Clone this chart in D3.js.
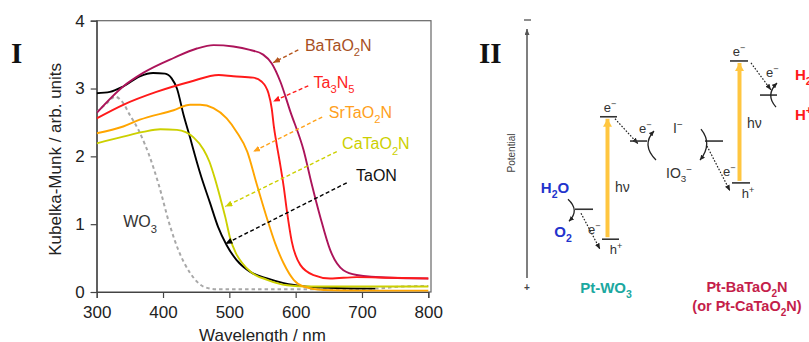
<!DOCTYPE html>
<html><head><meta charset="utf-8">
<script src="https://cdn.jsdelivr.net/npm/d3@7"></script>
<style>
html,body{margin:0;padding:0;background:#fff;}
svg{display:block;font-family:"Liberation Sans",Arial,sans-serif;}
</style></head>
<body>
<svg id="chart" width="809" height="342"></svg>
<script>
// ---------------- DATA (panel I) ----------------
const xTicks = [300, 400, 500, 600, 700, 800];
const yTicks = [0, 1, 2, 3, 4];
const xTitle = "Wavelength  / nm";
const yTitle = "Kubelka-Munk / arb. units";

const seriesNames = ["BaTaO_2N", "Ta_3N_5", "SrTaO_2N", "CaTaO_2N", "TaON", "WO_3"];

const wlBa = [300,340,370,416,451,476,506,531,551,564,577,592,612,624,637,652,672,692,743,800];
const kmBa = [2.64,3.03,3.23,3.45,3.59,3.64,3.62,3.57,3.50,3.37,3.10,2.66,2.09,1.60,1.11,0.62,0.32,0.25,0.21,0.20];

const wlTa = [300,340,390,441,484,506,536,549,559,564,567,571,576,582,587,594,607,627,652,692,743,800];
const kmTa = [2.56,2.76,2.95,3.10,3.20,3.18,3.16,3.10,2.93,2.70,2.45,2.20,1.92,1.55,1.18,0.75,0.40,0.25,0.20,0.22,0.21,0.20];

const wlSr = [300,340,365,416,441,456,476,496,511,527,541,556,569,582,597,612,642,700,800];
const kmSr = [2.34,2.44,2.54,2.68,2.76,2.76,2.71,2.56,2.36,2.07,1.60,1.11,0.72,0.42,0.18,0.08,0.03,0.02,0.02];

const wlCa = [300,340,370,396,421,446,461,470,478,486,494,501,510,520,533,557,587,620,700,800];
const kmCa = [2.19,2.29,2.36,2.40,2.39,2.28,2.10,1.92,1.68,1.40,1.10,0.80,0.57,0.42,0.29,0.18,0.10,0.08,0.08,0.08];

const wlTaON = [300,320,340,365,385,403,413,421,431,441,448,456,471,483,496,511,531,557,582,617,660,720];
const kmTaON = [2.93,2.95,3.03,3.18,3.23,3.22,3.15,3.00,2.61,2.27,2.02,1.75,1.31,0.96,0.69,0.47,0.30,0.20,0.13,0.08,0.06,0.05];

const wlWO3 = [300,315,328,338,350,363,373,379,393,411,423,441,461,480,550,650,720,760,800];
const kmWO3 = [2.65,2.78,2.88,2.81,2.61,2.39,2.17,2.02,1.60,0.96,0.62,0.28,0.08,0.04,0.04,0.04,0.05,0.08,0.09];

// annotation labels (data units): label anchor, arrow tail, arrow tip
const annLabels = ["BaTaO_2N", "Ta_3N_5", "SrTaO_2N", "CaTaO_2N", "TaON"];
const annText  = [[614,3.64],[627,3.10],[650,2.65],[670,2.19],[691,1.73]];
const annTail  = [[604,3.57],[619,3.04],[640,2.58],[662,2.07],[677,1.61]];
const annTip   = [[566,3.38],[566,2.81],[536,2.07],[494,1.26],[494,0.71]];
const wo3Label = [340, 1.04];

// ---------------- DATA (panel II) ----------------
// potentials (arbitrary units, more positive = lower)
const levelNames = ["WO3 CB","WO3 VB","BaTaO2N CB","BaTaO2N VB","H+/H2","IO3-/I-","O2/H2O"];
const levelPot   = [0.06, 2.43, -1.02, 1.34, -0.36, 0.53, 1.85];

// ---------------- STYLE ----------------
const colBa = "#AC145A", colTa = "#FF1A1A", colSr = "#FFA500", colCa = "#CCD000", colTaON = "#000000", colWO3 = "#A8A8A8";
const lineCols = [colBa, colTa, colSr, colCa, colTaON, colWO3];
const annCols = ["#B5561E", "#FF1A1A", "#FFA21A", "#CCD000", "#000000"];
const annTextCols = ["#A8501E", "#FF2222", "#FFA020", "#CCD000", "#111111"];

const svg = d3.select("#chart");

function rich(sel, str, fs) {
  const toks = str.match(/_\{[^}]*\}|\^\{[^}]*\}|_[^{]|\^[^{]|[^_^]+/g);
  let cur = 0;
  toks.forEach(t => {
    let shift = 0, txt = t, small = false;
    if (t[0] === "_") { shift = fs * 0.32; small = true; txt = t[1] === "{" ? t.slice(2, -1) : t.slice(1); }
    else if (t[0] === "^") { shift = -fs * 0.38; small = true; txt = t[1] === "{" ? t.slice(2, -1) : t.slice(1); }
    const ts = sel.append("tspan").text(txt);
    if (shift - cur !== 0) ts.attr("dy", shift - cur);
    if (small) ts.attr("font-size", fs * 0.7);
    cur = shift;
  });
  return sel;
}

// ---------------- PANEL I ----------------
const L = 96.7, R = 428.3, T = 20.7, B = 292;
const x = d3.scaleLinear().domain([300, 800]).range([L, R]);
const y = d3.scaleLinear().domain([0, 4]).range([B, T]);

const defs = svg.append("defs");
defs.append("clipPath").attr("id", "plotclip").append("rect")
  .attr("x", L).attr("y", T).attr("width", 431 - L).attr("height", B - T);

function mkMarker(id, color, w, l) {
  defs.append("marker").attr("id", id).attr("markerUnits", "userSpaceOnUse")
    .attr("viewBox", `0 ${-w/2} ${l} ${w}`).attr("refX", l).attr("refY", 0)
    .attr("markerWidth", l).attr("markerHeight", w).attr("orient", "auto")
    .append("path").attr("d", `M0,${-w/2}L${l},0L0,${w/2}Z`).attr("fill", color);
}
annCols.forEach((c, i) => mkMarker("ann" + i, c, 6, 7));
mkMarker("dotArrow", "#222", 5, 6);
mkMarker("yelArrow", "#FFC640", 9, 8);
mkMarker("axArrow", "#555", 5, 6);
mkMarker("curArrow", "#222", 5, 5);

// frame
svg.append("rect").attr("x", L).attr("y", T).attr("width", 431 - L).attr("height", B - T)
  .attr("fill", "none").attr("stroke", "#666").attr("stroke-width", 1.2);

const gx = svg.append("g").attr("transform", `translate(0,${B})`)
  .call(d3.axisBottom(x).tickValues(xTicks).tickSize(6).tickPadding(8).tickFormat(d3.format("d")));
const gy = svg.append("g").attr("transform", `translate(${L},0)`)
  .call(d3.axisLeft(y).tickValues(yTicks).tickSize(6).tickPadding(6).tickFormat(d3.format("d")));
[gx, gy].forEach(g => {
  g.selectAll("text").attr("font-size", 17).attr("fill", "#222").attr("font-family", "Liberation Sans, Arial, sans-serif");
  g.selectAll("line").attr("stroke", "#444").attr("stroke-width", 1.2);
  g.select(".domain").attr("stroke", "#444").attr("stroke-width", 1.2);
});

svg.append("text").attr("x", (L + R) / 2).attr("y", 341).attr("text-anchor", "middle")
  .attr("font-size", 17).attr("fill", "#222").text(xTitle);
svg.append("text").attr("transform", `translate(61,${(T + B) / 2 + 3}) rotate(-90)`)
  .attr("text-anchor", "middle").attr("font-size", 17).attr("fill", "#222").text(yTitle);

// curves
const allWl = [wlBa, wlTa, wlSr, wlCa, wlTaON, wlWO3];
const allKm = [kmBa, kmTa, kmSr, kmCa, kmTaON, kmWO3];
const line = d3.line().x(d => x(d[0])).y(d => y(d[1])).curve(d3.curveMonotoneX);
const gCurves = svg.append("g").attr("clip-path", "url(#plotclip)");
[5, 4, 3, 2, 0, 1].forEach(i => {
  const pts = allWl[i].map((w, j) => [w, allKm[i][j]]);
  gCurves.append("path").datum(pts).attr("d", line)
    .attr("fill", "none").attr("stroke", lineCols[i])
    .attr("stroke-width", i === 5 ? 2 : 1.9)
    .attr("stroke-dasharray", i === 5 ? "3.5,3" : null)
    .attr("stroke-linejoin", "round");
});

// annotations
annLabels.forEach((lab, i) => {
  svg.append("line")
    .attr("x1", x(annTail[i][0])).attr("y1", y(annTail[i][1]))
    .attr("x2", x(annTip[i][0])).attr("y2", y(annTip[i][1]))
    .attr("stroke", annCols[i]).attr("stroke-width", 1.4).attr("stroke-dasharray", "4,2.5")
    .attr("marker-end", `url(#ann${i})`);
  const t = svg.append("text").attr("x", x(annText[i][0])).attr("y", y(annText[i][1]) + 6)
    .attr("font-size", 16).attr("fill", annTextCols[i]);
  rich(t, lab, 16);
});
rich(svg.append("text").attr("x", x(wo3Label[0])).attr("y", y(wo3Label[1]) + 6)
  .attr("font-size", 16).attr("fill", "#333"), "WO_3", 16);

// panel numerals
svg.append("text").attr("x", 11).attr("y", 63).attr("font-family", "Liberation Serif, Times New Roman, serif")
  .attr("font-weight", "bold").attr("font-size", 29).attr("fill", "#111").text("I");
svg.append("text").attr("x", 479).attr("y", 63).attr("font-family", "Liberation Serif, Times New Roman, serif")
  .attr("font-weight", "bold").attr("font-size", 29).attr("fill", "#111").text("II");

// ---------------- PANEL II ----------------
const p = d3.scaleLinear().domain([-1.6, 3.2]).range([31, 279]);
const lv = name => p(levelPot[levelNames.indexOf(name)]);
const g2 = svg.append("g");
const dark = "#333";

g2.append("line").attr("x1", 527).attr("x2", 527).attr("y1", 278).attr("y2", 29)
  .attr("stroke", "#555").attr("stroke-width", 1.5).attr("marker-end", "url(#axArrow)");
g2.append("line").attr("x1", 524).attr("x2", 531).attr("y1", 20).attr("y2", 20).attr("stroke", "#444").attr("stroke-width", 1.2);
g2.append("text").attr("x", 527).attr("y", 291).attr("text-anchor", "middle").attr("font-size", 10).attr("font-weight", "bold").attr("fill", "#444").text("+");
g2.append("text").attr("transform", "translate(515,153) rotate(-90)").attr("text-anchor", "middle")
  .attr("font-size", 10).attr("fill", "#444").text("Potential");

function level(x1, x2, yy) {
  g2.append("line").attr("x1", x1).attr("x2", x2).attr("y1", yy).attr("y2", yy).attr("stroke", dark).attr("stroke-width", 1.6);
}
function txt(xx, yy, s, fs, col, weight, anchor) {
  const t = g2.append("text").attr("x", xx).attr("y", yy).attr("font-size", fs).attr("fill", col)
    .attr("font-weight", weight || "normal").attr("text-anchor", anchor || "start");
  rich(t, s, fs);
}
function dotted(x1, y1, x2, y2) {
  g2.append("line").attr("x1", x1).attr("y1", y1).attr("x2", x2).attr("y2", y2)
    .attr("stroke", "#222").attr("stroke-width", 1.2).attr("stroke-dasharray", "1.6,1.6").attr("marker-end", "url(#dotArrow)");
}
function curved(x1, y1, cx, cy, x2, y2) {
  g2.append("path").attr("d", `M${x1},${y1}Q${cx},${cy} ${x2},${y2}`).attr("fill", "none")
    .attr("stroke", "#222").attr("stroke-width", 1.3).attr("marker-end", "url(#curArrow)");
}
function photon(xx, y1, y2) {
  g2.append("line").attr("x1", xx).attr("x2", xx).attr("y1", y1).attr("y2", y2)
    .attr("stroke", "#FFC640").attr("stroke-width", 4).attr("marker-end", "url(#yelArrow)");
}

// Pt-WO3
const wCB = lv("WO3 CB"), wVB = lv("WO3 VB"), red = lv("IO3-/I-"), ox = lv("O2/H2O");
level(600, 617, wCB);
level(602, 619, wVB);
photon(607.5, wVB - 2, wCB + 2);
txt(610, wCB - 5, "e^−", 13, dark, "normal", "middle");
txt(616, wVB + 15, "h^+", 13, dark, "normal", "middle");
txt(615, 192, "hν", 14, dark);
dotted(615, wCB + 2, 638, wCB + 27);
txt(639, wCB + 16, "e^−", 13, dark);
level(630, 647, red);
curved(656, red + 19, 641, red + 4, 654, red - 10);
level(575, 593, ox);
curved(568, ox - 10, 580, ox + 1, 569, ox + 12);
txt(555, 193, "H_2O", 15, "#2233CC", "bold", "middle");
txt(563, 237, "O_2", 15, "#2233CC", "bold", "middle");
dotted(581, ox + 4, 600, wVB + 10);
txt(588, wVB - 5, "e^−", 13, dark);
txt(606, 293, "Pt-WO_3", 15, "#1BA8A0", "bold", "middle");

// Pt-BaTaO2N
const bCB = lv("BaTaO2N CB"), bVB = lv("BaTaO2N VB"), hl = lv("H+/H2");
level(730, 748, bCB);
level(732, 750, bVB);
photon(739.5, bVB - 2, bCB + 2);
txt(739, bCB - 5, "e^−", 13, dark, "normal", "middle");
txt(748, bVB + 15, "h^+", 13, dark, "normal", "middle");
txt(747, 128, "hν", 14, dark);
dotted(751, bCB + 2, 771, bCB + 29);
txt(766, bCB + 16, "e^−", 13, dark);
level(760, 777, hl);
curved(776, hl + 12, 765, hl, 777, hl - 12);
txt(795, 80, "H_2", 15, "#FF1A1A", "bold");
txt(795, 120, "H^+", 15, "#FF1A1A", "bold");
level(705, 723, red);
curved(701, red - 12, 713, red + 3, 700, red + 19);
txt(673, 133, "I^−", 14, dark);
txt(666, 178, "IO_3^−", 14, dark);
dotted(707, red + 5, 730, bVB + 8);
txt(723, bVB - 7, "e^−", 13, dark);
txt(747, 292, "Pt-BaTaO_2N", 14.5, "#C41E4A", "bold", "middle");
txt(747, 311, "(or Pt-CaTaO_2N)", 14.5, "#C41E4A", "bold", "middle");
</script>
</body></html>
